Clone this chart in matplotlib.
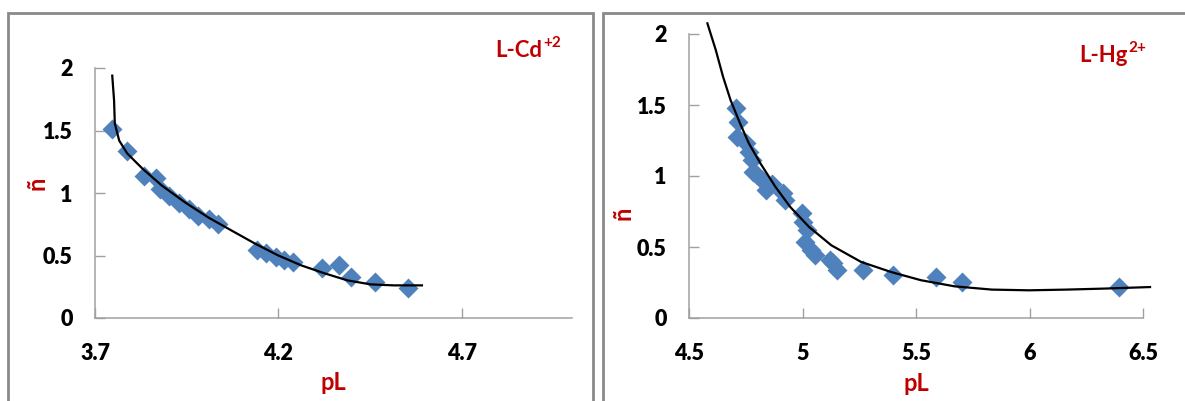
import matplotlib
matplotlib.use('Agg')
import matplotlib.pyplot as plt
from matplotlib.patches import Rectangle
from matplotlib.transforms import offset_copy

plt.rcParams['font.family'] = ['Lato', 'DejaVu Sans']
plt.rcParams['font.weight'] = 'bold'

RED = '#C00000'
BLUE = '#4F81BD'
GREY = '#a0a0a0'

# L-Cd(+2) measured points
cd_pL = [3.745, 3.788, 3.834, 3.867, 3.878, 3.903, 3.930, 3.955, 3.982, 4.010, 4.035,
         4.141, 4.166, 4.193, 4.215, 4.240, 4.320, 4.366, 4.399, 4.462, 4.553]
cd_n = [1.513, 1.339, 1.139, 1.124, 1.036, 0.980, 0.924, 0.876, 0.820, 0.796, 0.756,
        0.541, 0.517, 0.485, 0.461, 0.445, 0.397, 0.421, 0.325, 0.285, 0.237]
# L-Cd fitted curve
cd_fit_pL = [3.747, 3.752, 3.754, 3.766, 3.788, 3.829, 3.882, 3.946, 4.009, 4.072,
             4.135, 4.199, 4.263, 4.326, 4.388, 4.451, 4.514, 4.591]
cd_fit_n = [1.939, 1.739, 1.555, 1.419, 1.316, 1.196, 1.060, 0.924, 0.804, 0.700,
            0.597, 0.501, 0.420, 0.357, 0.301, 0.269, 0.261, 0.261]

# L-Hg(2+) measured points
hg_pL = [4.708, 4.716, 4.713, 4.749, 4.764, 4.778, 4.782, 4.798, 4.822, 4.839, 4.864,
         4.913, 4.922, 4.996, 5.004, 5.020, 5.011, 5.037, 5.054, 5.119, 5.134, 5.152,
         5.266, 5.399, 5.588, 5.703, 6.393]
hg_n = [1.476, 1.382, 1.276, 1.229, 1.170, 1.112, 1.029, 1.006, 0.971, 0.900, 0.947,
        0.877, 0.830, 0.736, 0.677, 0.618, 0.536, 0.477, 0.442, 0.407, 0.384, 0.336,
        0.336, 0.301, 0.289, 0.254, 0.219]
# L-Hg fitted curve
hg_fit_pL = [4.581, 4.618, 4.650, 4.683, 4.725, 4.764, 4.815, 4.881, 4.946, 5.029,
             5.127, 5.258, 5.390, 5.522, 5.670, 5.834, 5.998, 6.163, 6.327, 6.531]
hg_fit_n = [2.075, 1.887, 1.699, 1.535, 1.370, 1.229, 1.088, 0.923, 0.782, 0.641,
            0.512, 0.395, 0.324, 0.266, 0.223, 0.200, 0.195, 0.200, 0.207, 0.218]

cd_xticks = [3.7, 4.2, 4.7]
hg_xticks = [4.5, 5, 5.5, 6, 6.5]
yticks = [0, 0.5, 1, 1.5, 2]

fig = plt.figure(figsize=(11.85, 4.01), dpi=100)

# panel frames
fig.patches.append(Rectangle((8/1185, -0.1), 585/1185, 0.1 + 388/401, transform=fig.transFigure,
                             fill=False, edgecolor='#8a8a8a', lw=2))
fig.patches.append(Rectangle((603/1185, -0.1), 600/1185, 0.1 + 388/401, transform=fig.transFigure,
                             fill=False, edgecolor='#8a8a8a', lw=2))


def style(ax, xlim, xticks, xl_y, yl_pos, title, sup, tx, ty):
    ax.set_xlim(*xlim)
    ax.set_ylim(0, 2)
    ax.set_xticks(xticks)
    ax.set_yticks(yticks)
    for s in ['top', 'right']:
        ax.spines[s].set_visible(False)
    for s in ['left', 'bottom']:
        ax.spines[s].set_color(GREY)
        ax.spines[s].set_linewidth(1.1)
    ax.tick_params(axis='both', direction='in', length=7, width=1, color=GREY,
                   labelsize=15.5)
    ax.tick_params(axis='x', pad=18)
    ax.tick_params(axis='y', pad=16)
    ax.set_xticklabels([f'{t:g}' for t in xticks], fontweight='heavy')
    ax.set_yticklabels([f'{t:g}' for t in yticks], fontweight='heavy')
    ax.set_xlabel('pL', color=RED, fontsize=17, fontweight='bold', va='center')
    ax.xaxis.set_label_coords(0.5, xl_y)
    ax.set_ylabel('ñ', color=RED, fontsize=17, fontweight='bold')
    ax.yaxis.set_label_coords(*yl_pos)
    t = ax.text(tx, ty, title, transform=ax.transAxes, color=RED, fontsize=16,
                fontweight='bold', ha='left', va='baseline')
    fig.canvas.draw()
    w = t.get_window_extent().width * 72 / fig.dpi
    ax.text(tx, ty, sup, color=RED, fontsize=11, fontweight='bold', ha='left', va='baseline',
            transform=offset_copy(ax.transAxes, fig=fig, x=w + 0.5, y=7, units='points'))


ax1 = fig.add_axes([95/1185, 83/401, 477/1185, 250/401])
ax1.plot(cd_pL, cd_n, 'D', color=BLUE, ms=10, mec='none', zorder=2)
ax1.plot(cd_fit_pL, cd_fit_n, color='black', lw=1.6, zorder=3, clip_on=False)
style(ax1, (3.7, 5.0), cd_xticks, -0.26, (-0.098, 0.54), 'L-Cd', '+2', 0.84, 1.045)

ax2 = fig.add_axes([689/1185, 83/401, 454/1185, 284/401])
ax2.plot(hg_pL, hg_n, 'D', color=BLUE, ms=10, mec='none', zorder=2)
ax2.plot(hg_fit_pL, hg_fit_n, color='black', lw=1.6, zorder=3, clip_on=False)
style(ax2, (4.5, 6.5), hg_xticks, -0.229, (-0.12, 0.37), 'L-Hg', '2+', 0.86, 0.902)

fig.savefig('out.png', dpi=100)
